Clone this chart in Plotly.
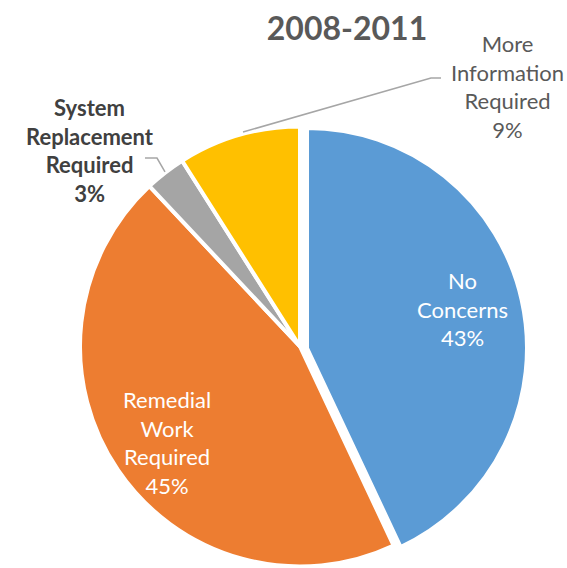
import plotly.graph_objects as go

# Survey outcome shares, 2008-2011
labels = ["No Concerns", "Remedial Work Required", "System Replacement Required", "More Information Required"]
values = [43, 45, 3, 9]
colors = ["#5B9BD5", "#ED7D31", "#A5A5A5", "#FFC000"]
exploded = [True, False, False, False]   # slice drawn pulled out from the centre

W, H = 567, 568
CLEAR = "rgba(0,0,0,0)"

# pie box in pixels: centre and radius, plus the offset of the exploded slice
cx, cy, r = 300, 346.5, 220
dx, dy = 7, 1.5


def box(x0, y0):
    return dict(x=[(x0 - r) / W, (x0 + r) / W],
                y=[max(0, (H - y0 - r) / H), (H - y0 + r) / H])


base_colors = [CLEAR if e else c for c, e in zip(colors, exploded)]
base_lines = [0 if e else 4 for e in exploded]
top_colors = [c if e else CLEAR for c, e in zip(colors, exploded)]
top_lines = [4 if e else 0 for e in exploded]

common = dict(labels=labels, values=values, sort=False, direction="clockwise",
              rotation=0, textinfo="none", showlegend=False)

fig = go.Figure()
fig.add_trace(go.Pie(
    **common,
    marker=dict(colors=base_colors, line=dict(color="white", width=base_lines)),
    hoverinfo="label+percent",
    domain=box(cx, cy),
))
fig.add_trace(go.Pie(
    **common,
    marker=dict(colors=top_colors, line=dict(color="white", width=top_lines)),
    hoverinfo="skip",
    domain=box(cx + dx, cy + dy),
))

total = sum(values)


def label_text(i):
    return labels[i].replace(" ", "<br>") + f"<br>{round(100 * values[i] / total)}%"


# label anchor points (pixels from top-left) and styles
label_pos = [(462, 309), (167, 442), (90, 150), (507, 86)]
label_font = [
    dict(family="Lato", size=22, color="white"),
    dict(family="Lato", size=22, color="white"),
    dict(family="Lato", size=22, color="#404040", weight="bold"),
    dict(family="Lato", size=22, color="#595959"),
]

annotations = []
for i, (px, py) in enumerate(label_pos):
    annotations.append(dict(
        x=px / W, y=1 - py / H, xref="paper", yref="paper",
        text=label_text(i), showarrow=False, align="center",
        xanchor="center", yanchor="middle", font=label_font[i],
    ))

# leader lines for the outside labels
leaders = [
    [(243, 132), (431, 78), (441, 78)],
    [(165, 172), (157, 158), (145, 158)],
]
shapes = []
for pts in leaders:
    path = "M " + " L ".join(f"{x / W:.4f},{1 - y / H:.4f}" for x, y in pts)
    shapes.append(dict(type="path", xref="paper", yref="paper", path=path,
                       line=dict(color="#A6A6A6", width=1.5)))

fig.update_layout(
    width=W, height=H,
    margin=dict(l=0, r=0, t=0, b=0),
    paper_bgcolor="white",
    plot_bgcolor="white",
    title=dict(text="<b>2008-2011</b>", x=347 / W, xanchor="center",
               y=1 - 29 / H, yanchor="middle",
               font=dict(family="Lato", size=32, color="#595959")),
    annotations=annotations,
    shapes=shapes,
)

fig.write_html("out.html")
